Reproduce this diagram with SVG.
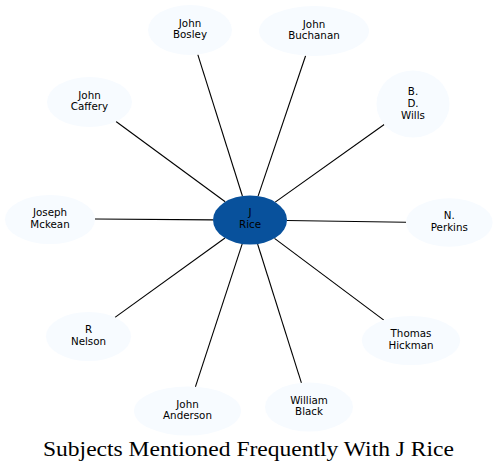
<svg xmlns="http://www.w3.org/2000/svg" width="498" height="472" viewBox="0 0 498 472">
<style>
.n ellipse{fill:#f7fbff;stroke:none}
.c ellipse{fill:#08519c;stroke:none}
text{font-family:"DejaVu Sans",sans-serif;font-size:10.3px;text-anchor:middle;fill:#000}
.e line{stroke:#000;stroke-width:1.1}
.t{font-family:"Liberation Serif","DejaVu Serif",serif;font-size:20px}
</style>
<rect width="498" height="472" fill="#fff"/>
<g id="edges" class="e">
<line x1="242.4" y1="196" x2="197.8" y2="54.6"/>
<line x1="258.1" y1="196.1" x2="305.6" y2="55.7"/>
<line x1="225.2" y1="201.8" x2="116" y2="121.5"/>
<line x1="275.2" y1="202.1" x2="384.2" y2="124.5"/>
<line x1="213" y1="219.9" x2="95" y2="219"/>
<line x1="287" y1="220.5" x2="406" y2="222.3"/>
<line x1="225" y1="238" x2="115" y2="317.4"/>
<line x1="274.5" y1="238.4" x2="383.8" y2="320.1"/>
<line x1="242.2" y1="243.9" x2="195.4" y2="386.8"/>
<line x1="257.6" y1="244" x2="301.4" y2="382.9"/>
</g>
<g id="jrice" class="c"><ellipse cx="250" cy="220" rx="37" ry="24.5"/><text x="250" y="216">J</text><text x="250" y="228">Rice</text></g>
<g id="bosley" class="n"><ellipse cx="190" cy="30" rx="42" ry="25"/><text x="190" y="26.5">John</text><text x="190" y="38">Bosley</text></g>
<g id="buchanan" class="n"><ellipse cx="314" cy="31" rx="55" ry="25"/><text x="314" y="27.5">John</text><text x="314" y="39">Buchanan</text></g>
<g id="caffery" class="n"><ellipse cx="89.5" cy="102" rx="42.5" ry="25"/><text x="89.5" y="98.5">John</text><text x="89.5" y="110">Caffery</text></g>
<g id="wills" class="n"><ellipse cx="413" cy="104" rx="36.5" ry="33.5"/><text x="413" y="94.5">B.</text><text x="413" y="106.5">D.</text><text x="413" y="118.5">Wills</text></g>
<g id="mckean" class="n"><ellipse cx="50" cy="219.5" rx="45" ry="24.5"/><text x="50" y="216">Joseph</text><text x="50" y="227.5">Mckean</text></g>
<g id="perkins" class="n"><ellipse cx="449.3" cy="222.5" rx="43.3" ry="24.2"/><text x="449.3" y="219">N.</text><text x="449.3" y="230.5">Perkins</text></g>
<g id="nelson" class="n"><ellipse cx="88.5" cy="336.5" rx="42.5" ry="24.5"/><text x="88.5" y="333">R</text><text x="88.5" y="344.5">Nelson</text></g>
<g id="hickman" class="n"><ellipse cx="411" cy="340.5" rx="49" ry="24.5"/><text x="411" y="337">Thomas</text><text x="411" y="348.5">Hickman</text></g>
<g id="anderson" class="n"><ellipse cx="187.5" cy="411" rx="53.5" ry="24.5"/><text x="187.5" y="407.5">John</text><text x="187.5" y="419">Anderson</text></g>
<g id="black" class="n"><ellipse cx="309" cy="407" rx="44" ry="24.5"/><text x="309" y="403.5">William</text><text x="309" y="415">Black</text></g>
<text class="t" x="248.5" y="456" textLength="411" lengthAdjust="spacingAndGlyphs">Subjects Mentioned Frequently With J Rice</text>
</svg>
